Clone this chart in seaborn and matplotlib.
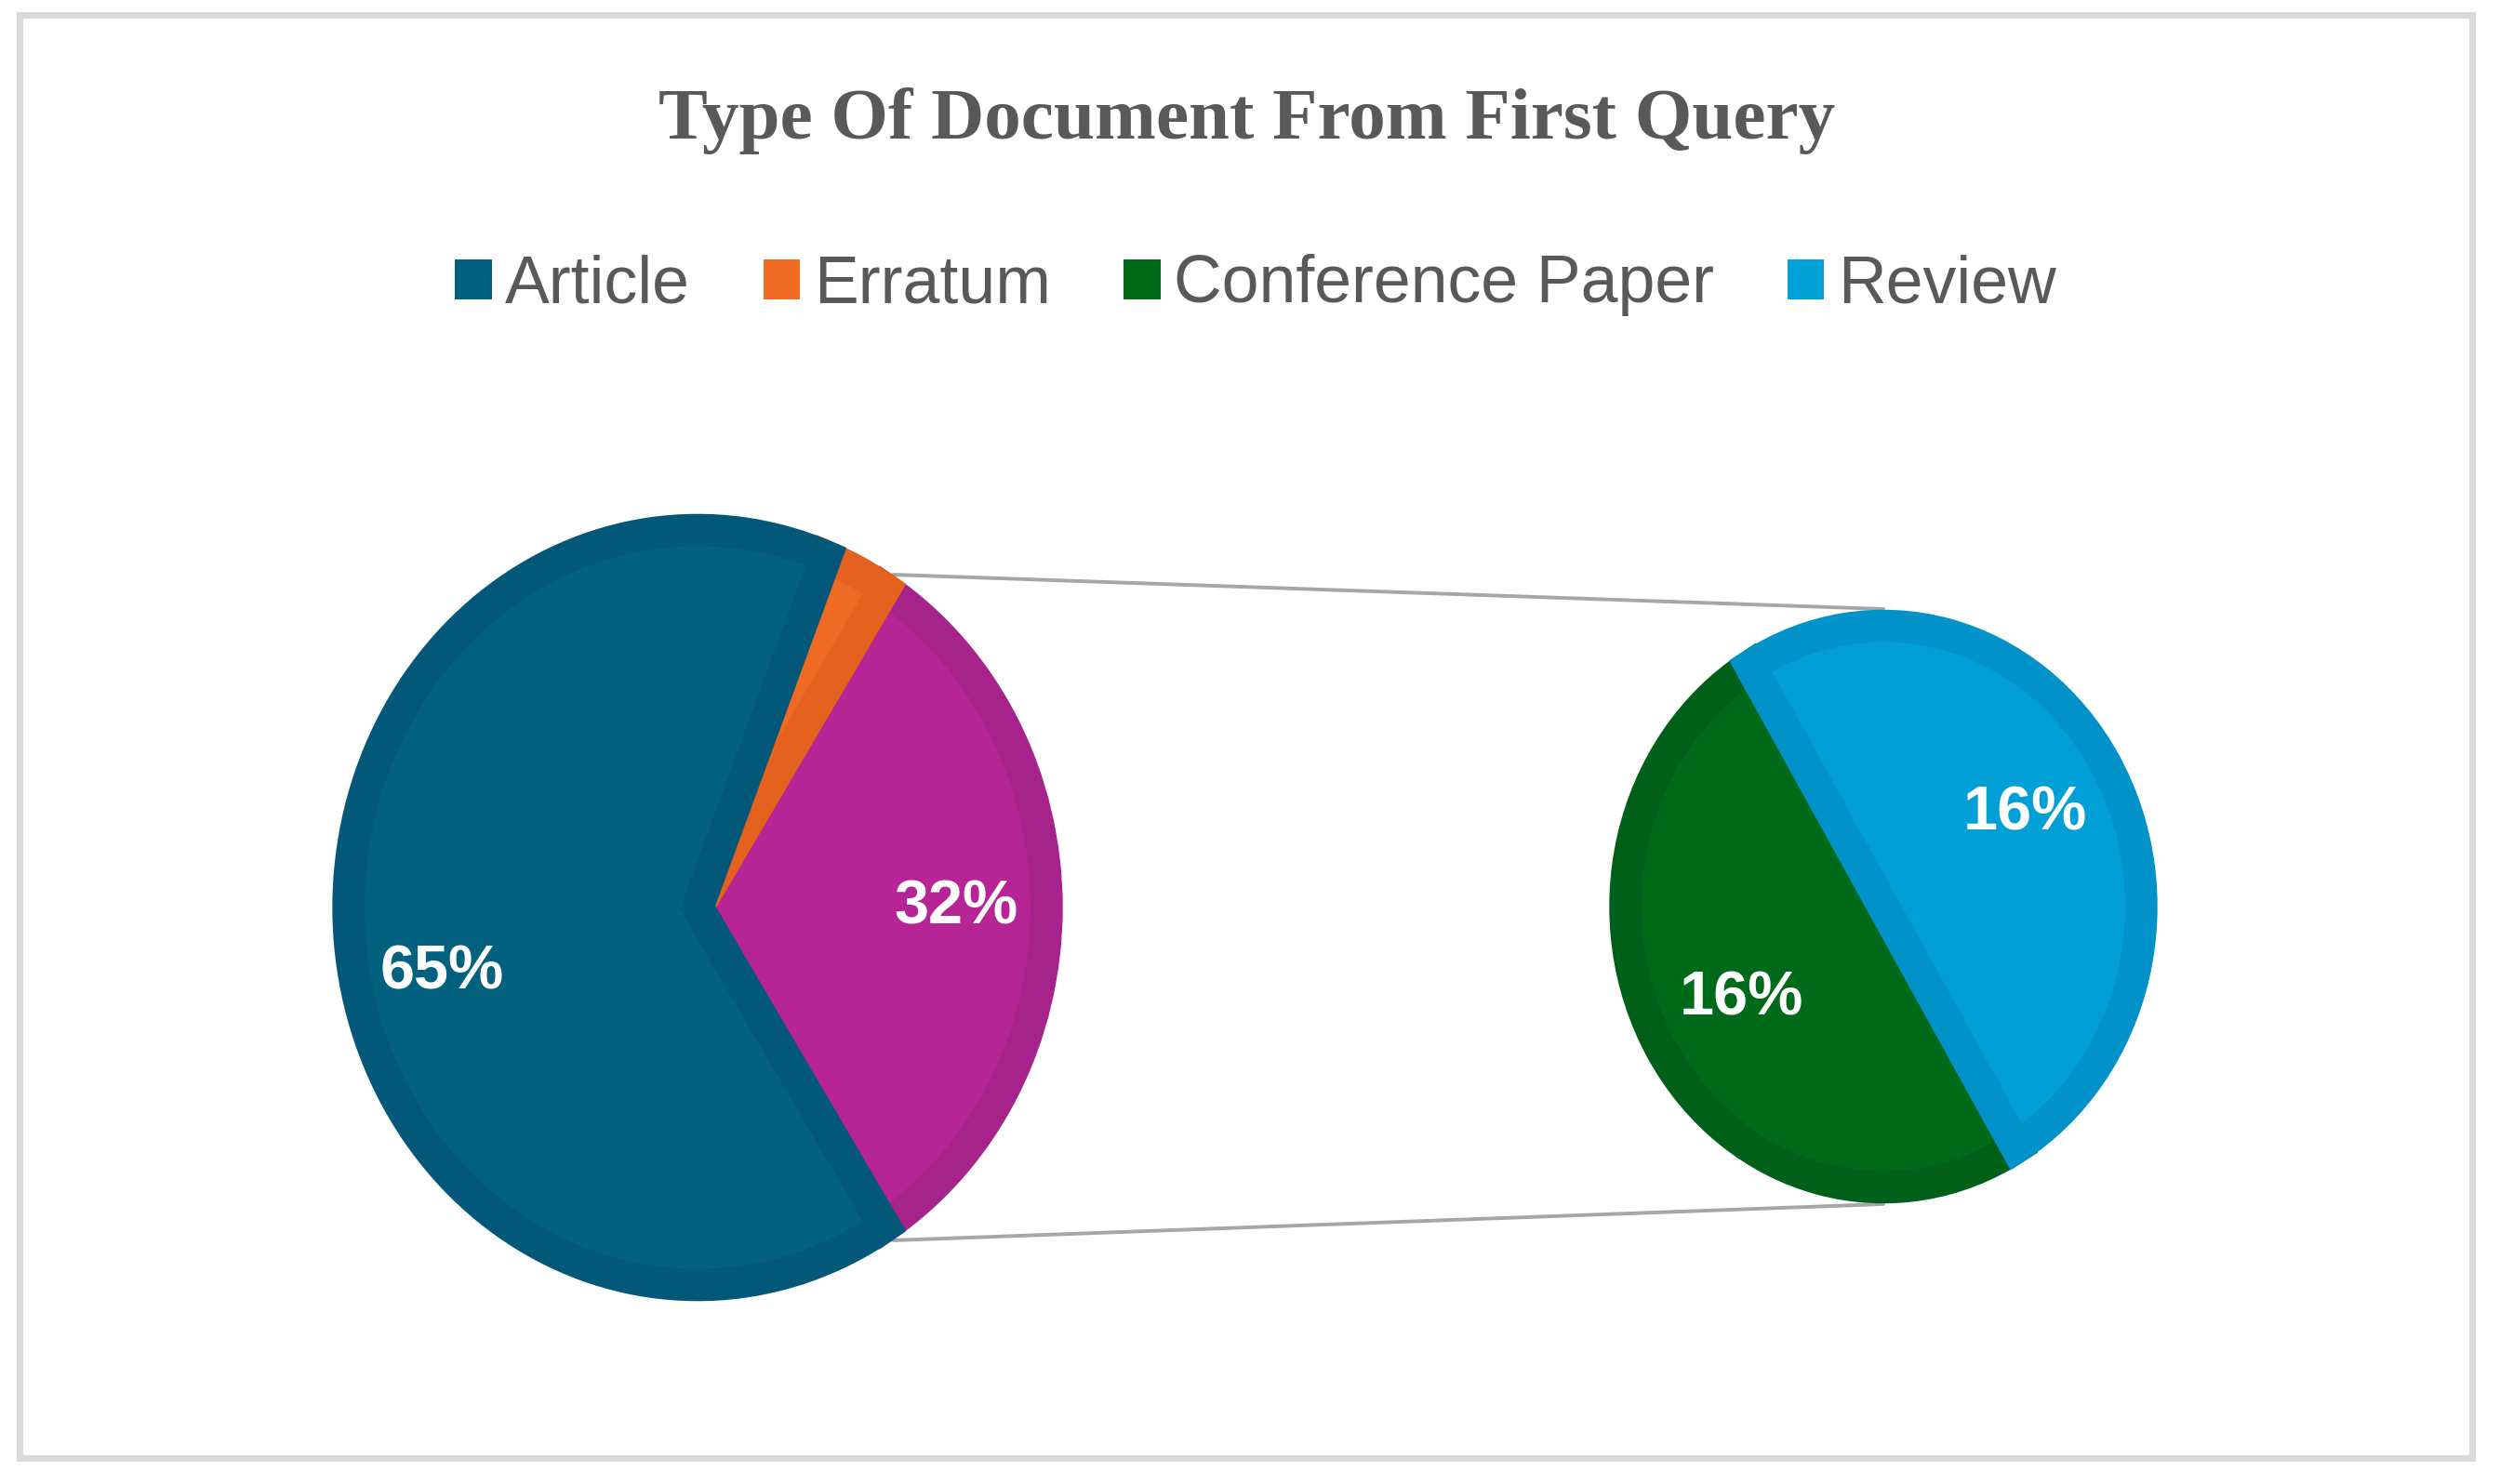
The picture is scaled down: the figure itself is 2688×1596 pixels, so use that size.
import matplotlib
matplotlib.use("Agg")
import matplotlib.pyplot as plt
from matplotlib.patches import Patch, Rectangle, ConnectionPatch
import seaborn as sns
import numpy as np

# data (percent of all documents)
categories = ["Article", "Erratum", "Conference Paper", "Review"]
shares = [65, 3, 16, 16]

sub_labels = ["Conference Paper", "Review"]
sub_values = [16, 16]
main_labels = ["Other", "Erratum", "Article"]   # counterclockwise from the right
main_values = [sum(sub_values), 3, 65]

fill = {"Article": "#02617F", "Erratum": "#EF6B24", "Other": "#B72495",
        "Conference Paper": "#006A1B", "Review": "#009FD6"}
edge = {"Article": "#03587A", "Erratum": "#E5621E", "Other": "#A5238A",
        "Conference Paper": "#005F18", "Review": "#0092C8"}

sns.set_theme(style="white")
plt.rcParams["font.family"] = ["Liberation Sans", "DejaVu Sans"]

W, H = 2688, 1596
fig = plt.figure(figsize=(W / 200, H / 200), dpi=200)

def fx(px):
    return px / W

def fy(py):
    return 1 - py / H

LW = 12.5  # edge stroke in points, centred on the outline -> shrink radius by half of it
half_px = LW / 72 * 200 / 2

# main pie (slightly stretched vertically like the original)
ax1 = fig.add_axes([fx(358), fy(1400), fx(784), 848 / H])
total = sum(main_values)
start = -main_values[0] / total * 180
wedges1, _, auto1 = ax1.pie(
    main_values, colors=[fill[k] for k in main_labels], startangle=start,
    counterclock=True, radius=1 - half_px / 408, pctdistance=0.74,
    wedgeprops=dict(linewidth=LW, joinstyle="miter"),
    autopct=lambda p: f"{p:.0f}%" if p > 5 else "",
    textprops=dict(color="white", fontsize=24, fontweight="bold"))
for w, k in zip(wedges1, main_labels):
    w.set_edgecolor(edge[k])
# Article label sits a little below the slice middle in the original
w, t = wedges1[2], auto1[2]
th = np.deg2rad((w.theta1 + w.theta2) / 2 + 8)
t.set_position((0.72 * np.cos(th), 0.72 * np.sin(th)))

# secondary pie breaking down "Other"
ax2 = fig.add_axes([fx(1731), fy(1295), fx(588), 640 / H])
wedges2, _, auto2 = ax2.pie(
    sub_values, colors=[fill[k] for k in sub_labels], startangle=121,
    counterclock=True, radius=1 - half_px / 307, pctdistance=0.64,
    wedgeprops=dict(linewidth=LW, joinstyle="miter"),
    autopct=lambda p: f"{p * sum(sub_values) / total:.0f}%",
    textprops=dict(color="white", fontsize=24, fontweight="bold"))
for w, k in zip(wedges2, sub_labels):
    w.set_edgecolor(edge[k])

for ax in (ax1, ax2):
    ax.set_aspect("auto")
    ax.set_xlim(-1, 1)
    ax.set_ylim(-1, 1)
    ax.axis("off")

# connector lines from the "Other" slice to the secondary pie
a = np.deg2rad(start)
for sgn in (1, -1):
    con = ConnectionPatch(xyA=(np.cos(a), -sgn * np.sin(a)), coordsA=ax1.transData,
                          xyB=(0, sgn), coordsB=ax2.transData,
                          color="#a6a6a6", lw=1.4, zorder=0)
    fig.add_artist(con)

fig.text(fx(1341), fy(130), "Type Of Document From First Query", ha="center", va="center",
         fontsize=28.5, fontweight="bold", color="#595959",
         family=["Liberation Serif", "DejaVu Serif"])

handles = [Patch(facecolor=fill[c], edgecolor="none") for c in categories]
fig.legend(handles, categories, loc="center", bbox_to_anchor=(fx(1350), fy(307)),
           ncol=4, frameon=False, handlelength=0.55, handleheight=0.55,
           handletextpad=0.2, columnspacing=1.1, labelcolor="#595959",
           prop=dict(family=["Liberation Sans", "DejaVu Sans"], size=25.8))

fig.add_artist(Rectangle((fx(21), fy(1568)), fx(2637), 1552 / H, transform=fig.transFigure,
                         fill=False, edgecolor="#d9d9d9", lw=2.5))

fig.savefig("out.png", dpi=200, facecolor="white")
